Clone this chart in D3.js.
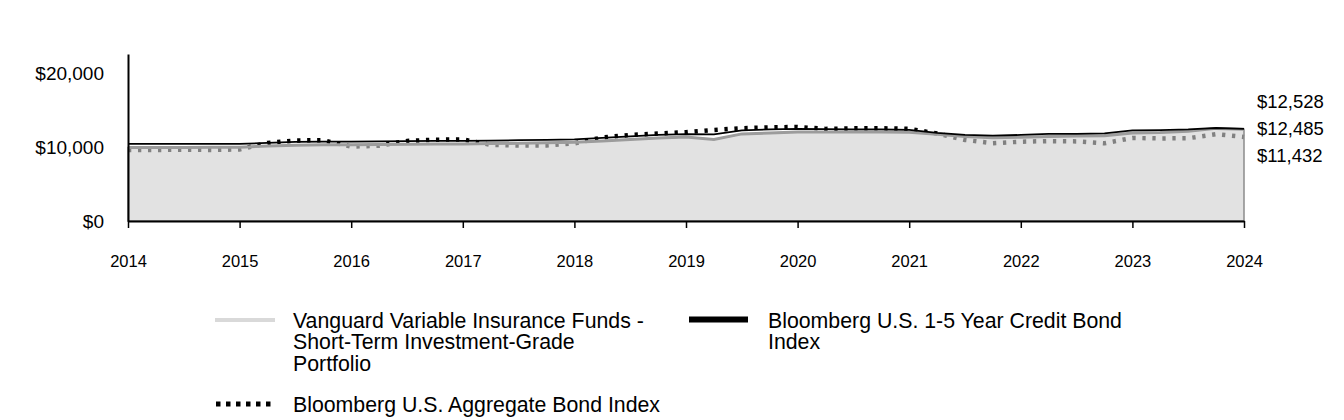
<!DOCTYPE html>
<html>
<head>
<meta charset="utf-8">
<script src="https://cdn.jsdelivr.net/npm/d3@7"></script>
<style>
  body { margin: 0; background: #fff; }
  svg { display: block; }
  text { font-family: "Liberation Sans", Arial, sans-serif; fill: #000; }
</style>
</head>
<body>
<svg width="1344" height="420"></svg>
<script>
// tick labels on the x axis (one per December)
const years = ["2014", "2015", "2016", "2017", "2018", "2019", "2020", "2021", "2022", "2023", "2024"];
const yTicks = [0, 10000, 20000];

// quarterly growth of $10,000
const fundValues = [10000, 10000, 10000, 10030, 10030, 10200, 10310, 10370, 10380, 10410,
    10440, 10480, 10480, 10520, 10570, 10640, 10710, 10880, 11090, 11290,
    11430, 11090, 11840, 11970, 12110, 12110, 12110, 12110, 12070, 11800,
    11500, 11330, 11390, 11500, 11560, 11590, 11970, 12040, 12200, 12590, 12485];
const creditValues = [10480, 10480, 10480, 10480, 10480, 10610, 10750, 10790, 10790, 10820,
    10860, 10880, 10880, 10930, 10980, 11020, 11090, 11290, 11500, 11700,
    11800, 11770, 12310, 12450, 12520, 12480, 12450, 12450, 12380, 11970,
    11700, 11610, 11700, 11840, 11840, 11900, 12310, 12350, 12450, 12640, 12528];
const aggValues = [9660, 9660, 9690, 9660, 9730, 10610, 10950, 10980, 10110, 10230,
    10880, 11050, 11090, 10340, 10270, 10270, 10540, 11360, 11700, 11900,
    12070, 12380, 12610, 12720, 12790, 12520, 12590, 12610, 12520, 11900,
    11020, 10570, 10780, 10860, 10820, 10570, 11290, 11220, 11250, 11800, 11432];

const endLabels = ["$12,528", "$12,485", "$11,432"];

const fundName = ["Vanguard Variable Insurance Funds -", "Short-Term Investment-Grade", "Portfolio"];
const creditName = ["Bloomberg U.S. 1-5 Year Credit Bond", "Index"];
const aggName = ["Bloomberg U.S. Aggregate Bond Index"];

window.addEventListener('load', () => {
    const svg = d3.select("svg");
    const left = 128, right = 1244, top = 54, bottom = 221;

    // quarters on x, dollars on y
    const x = d3.scaleLinear().domain([0, fundValues.length - 1]).range([left, right]);
    const y = d3.scaleLinear().domain([0, 22700]).range([bottom, top]);

    const line = d3.line().x((d, i) => x(i)).y(d => y(d));
    const area = d3.area().x((d, i) => x(i)).y0(y(0)).y1(d => y(d));

    const plot = svg.append("g");

    // aggregate index sits behind the fund area, so it greys out where it is lower
    plot.append("path")
        .datum(aggValues)
        .attr("d", line)
        .attr("fill", "none")
        .attr("stroke", "#000")
        .attr("stroke-width", 4.5)
        .attr("stroke-dasharray", "3.3,6.7");

    plot.append("path")
        .datum(fundValues)
        .attr("d", area)
        .attr("fill", "#d0d0d0")
        .attr("fill-opacity", 0.62)
        .attr("stroke", "#8c8c8c")
        .attr("stroke-width", 1.5);

    plot.append("path")
        .datum(fundValues)
        .attr("d", line)
        .attr("fill", "none")
        .attr("stroke", "#9c9c9c")
        .attr("stroke-width", 3);

    plot.append("path")
        .datum(creditValues)
        .attr("d", line)
        .attr("fill", "none")
        .attr("stroke", "#000")
        .attr("stroke-width", 1.8);

    // x axis
    const xAxis = svg.append("g")
        .attr("transform", "translate(0," + bottom + ")")
        .call(d3.axisBottom(x)
            .tickValues(d3.range(0, fundValues.length, 4))
            .tickFormat((d, i) => years[i])
            .tickSize(7)
            .tickSizeOuter(0)
            .tickPadding(27));
    xAxis.select(".domain").attr("stroke", "#000").attr("stroke-width", 2);
    xAxis.selectAll(".tick line").attr("stroke", "#000").attr("stroke-width", 1.5);
    xAxis.selectAll("text").style("font-size", "16.5px").attr("fill", "#000");

    // y axis
    const yAxis = svg.append("g")
        .attr("transform", "translate(" + left + ",0)")
        .call(d3.axisLeft(y)
            .tickValues(yTicks)
            .tickFormat(d => "$" + d3.format(",")(d))
            .tickSize(0)
            .tickSizeOuter(0)
            .tickPadding(24));
    yAxis.select(".domain").attr("stroke", "#000").attr("stroke-width", 2);
    yAxis.selectAll("text").style("font-size", "19px").attr("fill", "#000");

    // ending values on the right
    svg.selectAll(".endlabel")
        .data(endLabels)
        .enter().append("text")
        .attr("class", "endlabel")
        .attr("x", 1257)
        .attr("y", (d, i) => 108.3 + i * 26.7)
        .style("font-size", "18.5px")
        .text(d => d);

    // legend
    const legend = svg.append("g");
    const addText = (lines, tx, ty) => {
        legend.append("g").selectAll("text")
            .data(lines)
            .enter().append("text")
            .attr("x", tx)
            .attr("y", (d, i) => ty + i * 21.7)
            .style("font-size", "21.3px")
            .text(d => d);
    };

    legend.append("line")
        .attr("x1", 215).attr("x2", 275).attr("y1", 320).attr("y2", 320)
        .attr("stroke", "#d9d9d9").attr("stroke-width", 4);
    addText(fundName, 293, 327.5);

    legend.append("line")
        .attr("x1", 689).attr("x2", 748).attr("y1", 319.5).attr("y2", 319.5)
        .attr("stroke", "#000").attr("stroke-width", 6);
    addText(creditName, 768, 327.5);

    legend.append("line")
        .attr("x1", 216).attr("x2", 272).attr("y1", 404).attr("y2", 404)
        .attr("stroke", "#000").attr("stroke-width", 5).attr("stroke-dasharray", "4.5,5.5");
    addText(aggName, 293, 411.5);
});
</script>
</body>
</html>
